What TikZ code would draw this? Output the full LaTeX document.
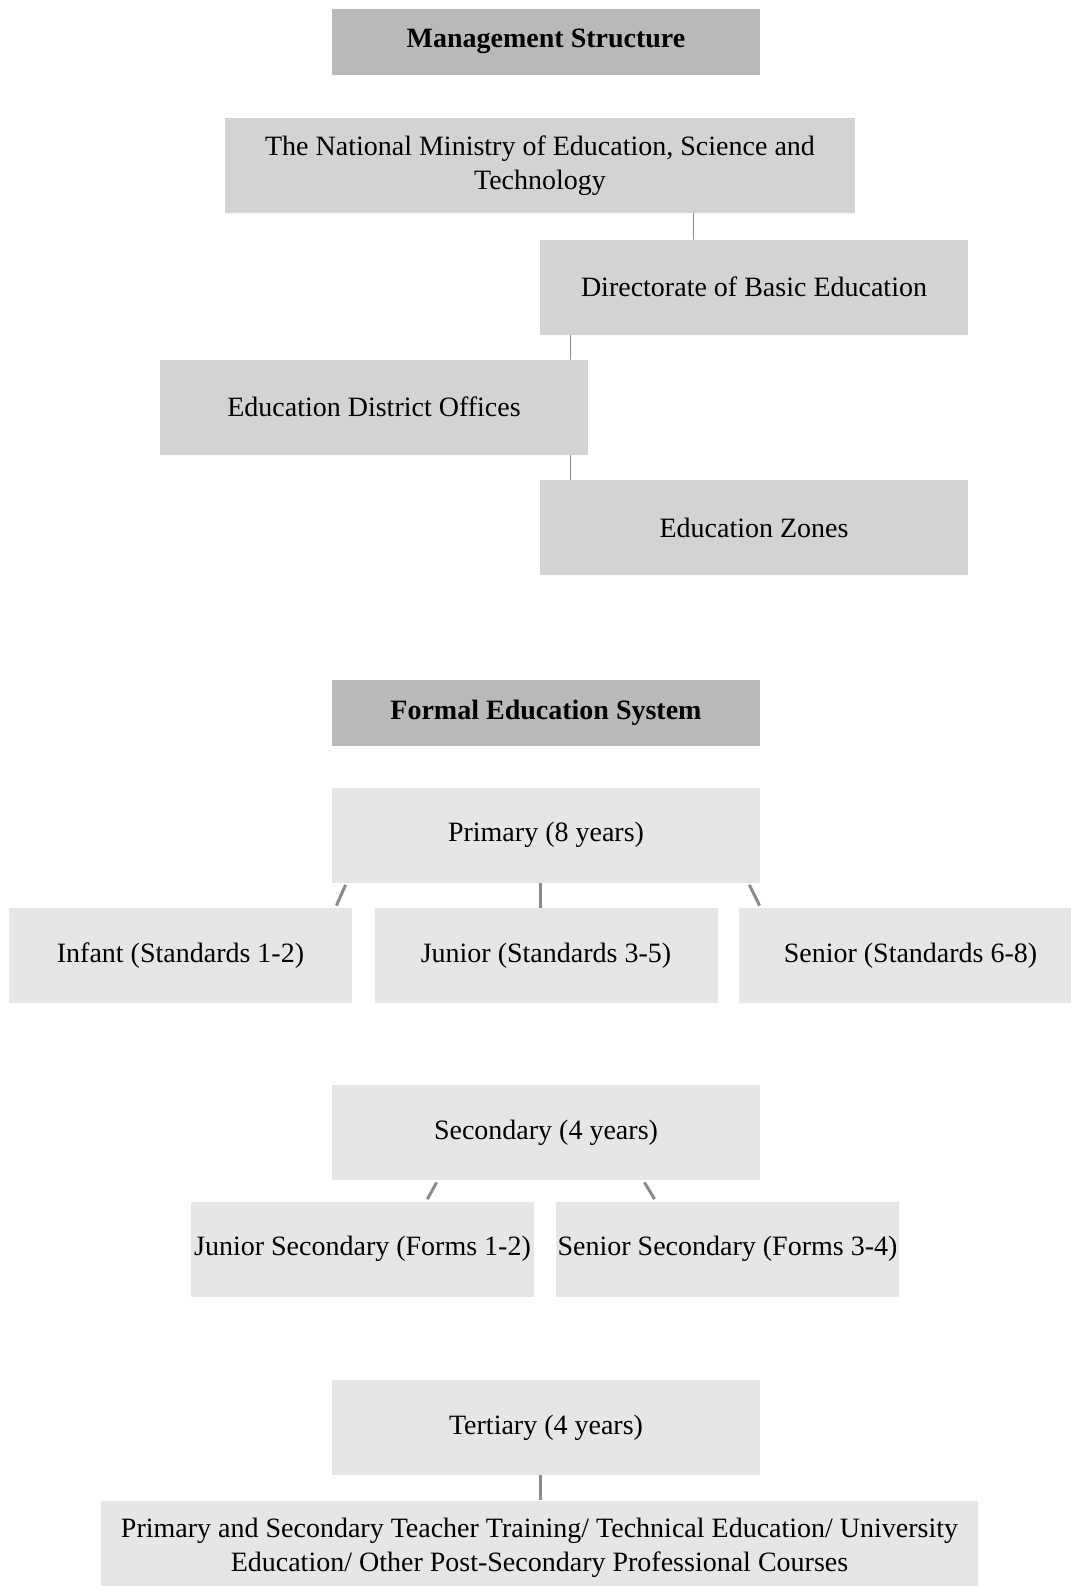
\documentclass[tikz,border=0pt]{standalone}
\usepackage{fontspec}
\setmainfont{Liberation Serif}
\usetikzlibrary{positioning}

\definecolor{headgray}{HTML}{B9B9B9}
\definecolor{mgmtgray}{HTML}{D3D3D3}
\definecolor{formgray}{HTML}{E6E6E6}
\definecolor{linkgray}{HTML}{8A8A8A}

\begin{document}
\begin{tikzpicture}[x=0.5pt,y=-0.5pt]
    \tikzset{box/.style={inner sep=0pt, minimum width=214pt, minimum height=47.5pt,
                         align=center, font=\fontsize{14}{17.2}\selectfont}}
    \tikzset{head/.style={box, fill=headgray, minimum height=33pt, font=\fontsize{14}{17.2}\selectfont\bfseries}}
    \tikzset{mgmt/.style={box, fill=mgmtgray}}
    \tikzset{level/.style={box, fill=formgray}}
    \tikzset{thin link/.style={draw=linkgray, line width=0.8pt}}
    \tikzset{link/.style={draw=linkgray, line width=1.5pt}}
    \useasboundingbox (0,0) rectangle (1071,1586);
    \clip (0,0) rectangle (1071,1586);

    % management structure
    \node[head] (mhead) at (546,41.5) {Management Structure};
    \node[mgmt, minimum width=315pt] (ministry) at (540,165.5)
        {The National Ministry of Education, Science and\\Technology};
    \node[mgmt] (directorate) at (754,287) {Directorate of Basic Education};
    \node[mgmt] (district) at (374,407) {Education District Offices};
    \node[mgmt] (zones) at (754,527.5) {Education Zones};

    \draw[thin link] ([xshift=77pt]directorate.north west) -- ([xshift=77pt]directorate.north west |- ministry.south);
    \draw[thin link] ([xshift=15.5pt]directorate.south west) -- ([xshift=15.5pt]directorate.south west |- district.north);
    \draw[thin link] ([xshift=15.5pt]zones.north west) -- ([xshift=15.5pt]zones.north west |- district.south);

    % formal education system
    \node[head] (fhead) at (546,713) {Formal Education System};
    \node[level] (primary) at (546,835) {Primary (8 years)};
    \node[level, minimum width=171.5pt] (infant) at (180.5,955.5) {Infant (Standards 1-2)};
    \node[level, minimum width=171.5pt] (junior) at (546,955.5) {Junior (Standards 3-5)};
    \node[level, minimum width=171.5pt] (senior) at (910.5,955.5) {Senior (Standards 6-8)};

    \draw[link] ([xshift=7pt,yshift=-1pt]primary.south west) -- ([xshift=-8pt,yshift=1pt]infant.north east);
    \draw[link] ([xshift=-3pt]primary.south) -- ([xshift=-3pt]junior.north);
    \draw[link] ([xshift=-5.5pt,yshift=-1pt]primary.south east) -- ([xshift=10.5pt,yshift=1pt]senior.north west);

    \node[level] (secondary) at (546,1132.5) {Secondary (4 years)};
    \node[level, minimum width=171.5pt] (jsec) at (362.5,1249) {Junior Secondary (Forms 1-2)};
    \node[level, minimum width=171.5pt] (ssec) at (727.5,1249) {Senior Secondary (Forms 3-4)};

    \draw[link] ([xshift=52.5pt,yshift=-1pt]secondary.south west) -- ([xshift=-53.5pt,yshift=1pt]jsec.north east);
    \draw[link] ([xshift=-58pt,yshift=-1pt]secondary.south east) -- ([xshift=49.5pt,yshift=1pt]ssec.north west);

    \node[level] (tertiary) at (546,1427.5) {Tertiary (4 years)};
    \node[level, minimum width=438.5pt] (further) at (539.5,1548)
        {Primary and Secondary Teacher Training/ Technical Education/ University\\Education/ Other Post-Secondary Professional Courses};

    \draw[link] ([xshift=-3pt]tertiary.south) -- ([xshift=-3pt]tertiary.south |- further.north);
\end{tikzpicture}
\end{document}
